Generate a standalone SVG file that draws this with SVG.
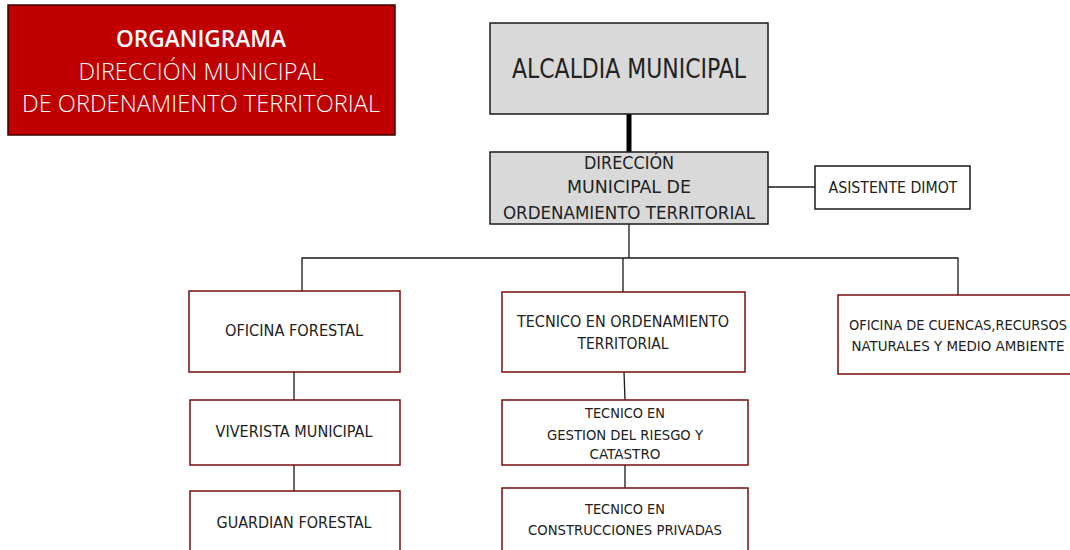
<svg xmlns="http://www.w3.org/2000/svg" width="1070" height="550" viewBox="0 0 1070 550">
<style>
.box{fill:#ffffff;stroke:#7a0c0c;stroke-width:1.5}
.gray{fill:#d9d9d9;stroke:#1a1a1a;stroke-width:1.5}
.plain{fill:#ffffff;stroke:#1a1a1a;stroke-width:1.5}
.t{font-family:"DejaVu Sans Condensed","Liberation Sans",sans-serif;fill:#222;text-anchor:middle}
.w{font-family:"Open Sans","Liberation Sans",sans-serif;fill:#ffffff;text-anchor:middle}
.c{stroke:#1a1a1a;stroke-width:1.3;fill:none}
</style>
<rect width="1070" height="550" fill="#ffffff"/>
<g id="title">
<rect x="8" y="5" width="387" height="130" fill="#c00000" stroke="#3a0000" stroke-width="1.5"/>
<text class="w" x="201" y="47" font-size="23" font-weight="600" textLength="170" lengthAdjust="spacingAndGlyphs">ORGANIGRAMA</text>
<text class="w" x="201" y="80" font-size="23" font-weight="300" textLength="245" lengthAdjust="spacingAndGlyphs">DIRECCIÓN MUNICIPAL</text>
<text class="w" x="201" y="112" font-size="23" font-weight="300" textLength="358" lengthAdjust="spacingAndGlyphs">DE ORDENAMIENTO TERRITORIAL</text>
</g>
<g id="connectors">
<line x1="629" y1="114" x2="629" y2="152" stroke="#000" stroke-width="5"/>
<line class="c" x1="768" y1="187" x2="815" y2="187"/>
<polyline class="c" points="629,224 629,258"/>
<polyline class="c" points="302,291 302,258 958,258 958,295"/>
<line class="c" x1="623" y1="258" x2="623" y2="292"/>
<line class="c" x1="294" y1="372" x2="294" y2="400"/>
<line class="c" x1="294" y1="465" x2="294" y2="491"/>
<line class="c" x1="624" y1="372" x2="625" y2="400"/>
<line class="c" x1="625" y1="465" x2="625" y2="488"/>
</g>
<g id="alcaldia">
<rect class="gray" x="490" y="23" width="278" height="91"/>
<text class="t" x="629" y="78" font-size="26" textLength="234" lengthAdjust="spacingAndGlyphs">ALCALDIA MUNICIPAL</text>
</g>
<g id="direccion">
<rect class="gray" x="490" y="152" width="278" height="72"/>
<text class="t" x="629" y="169" font-size="18" textLength="90" lengthAdjust="spacingAndGlyphs">DIRECCIÓN</text>
<text class="t" x="629" y="193" font-size="18" textLength="124" lengthAdjust="spacingAndGlyphs">MUNICIPAL DE</text>
<text class="t" x="629" y="219" font-size="18" textLength="252" lengthAdjust="spacingAndGlyphs">ORDENAMIENTO TERRITORIAL</text>
</g>
<g id="asistente">
<rect class="plain" x="815" y="166" width="155" height="43"/>
<text class="t" x="893" y="193" font-size="15" textLength="129" lengthAdjust="spacingAndGlyphs">ASISTENTE DIMOT</text>
</g>
<g id="oficina-forestal">
<rect class="box" x="189" y="291" width="211" height="81"/>
<text class="t" x="294" y="336" font-size="15" textLength="138" lengthAdjust="spacingAndGlyphs">OFICINA FORESTAL</text>
</g>
<g id="tecnico-ordenamiento">
<rect class="box" x="502" y="292" width="243" height="80"/>
<text class="t" x="623" y="327" font-size="15" textLength="212" lengthAdjust="spacingAndGlyphs">TECNICO EN ORDENAMIENTO</text>
<text class="t" x="623" y="349" font-size="15" textLength="91" lengthAdjust="spacingAndGlyphs">TERRITORIAL</text>
</g>
<g id="oficina-cuencas">
<rect class="box" x="838" y="295" width="240" height="79"/>
<text class="t" x="958" y="330" font-size="14" textLength="218" lengthAdjust="spacingAndGlyphs">OFICINA DE CUENCAS,RECURSOS</text>
<text class="t" x="958" y="351" font-size="14" textLength="213" lengthAdjust="spacingAndGlyphs">NATURALES Y MEDIO AMBIENTE</text>
</g>
<g id="viverista">
<rect class="box" x="190" y="400" width="210" height="65"/>
<text class="t" x="294" y="437" font-size="15" textLength="157" lengthAdjust="spacingAndGlyphs">VIVERISTA MUNICIPAL</text>
</g>
<g id="guardian">
<rect class="box" x="190" y="491" width="210" height="70"/>
<text class="t" x="294" y="528" font-size="15" textLength="155" lengthAdjust="spacingAndGlyphs">GUARDIAN FORESTAL</text>
</g>
<g id="tecnico-gestion">
<rect class="box" x="502" y="400" width="246" height="65"/>
<text class="t" x="625" y="418" font-size="14" textLength="80" lengthAdjust="spacingAndGlyphs">TECNICO EN</text>
<text class="t" x="625" y="440" font-size="14" textLength="156" lengthAdjust="spacingAndGlyphs">GESTION DEL RIESGO Y</text>
<text class="t" x="625" y="459" font-size="14" textLength="71" lengthAdjust="spacingAndGlyphs">CATASTRO</text>
</g>
<g id="tecnico-construcciones">
<rect class="box" x="502" y="488" width="246" height="73"/>
<text class="t" x="625" y="514" font-size="14" textLength="80" lengthAdjust="spacingAndGlyphs">TECNICO EN</text>
<text class="t" x="625" y="535" font-size="14" textLength="194" lengthAdjust="spacingAndGlyphs">CONSTRUCCIONES PRIVADAS</text>
</g>
</svg>
